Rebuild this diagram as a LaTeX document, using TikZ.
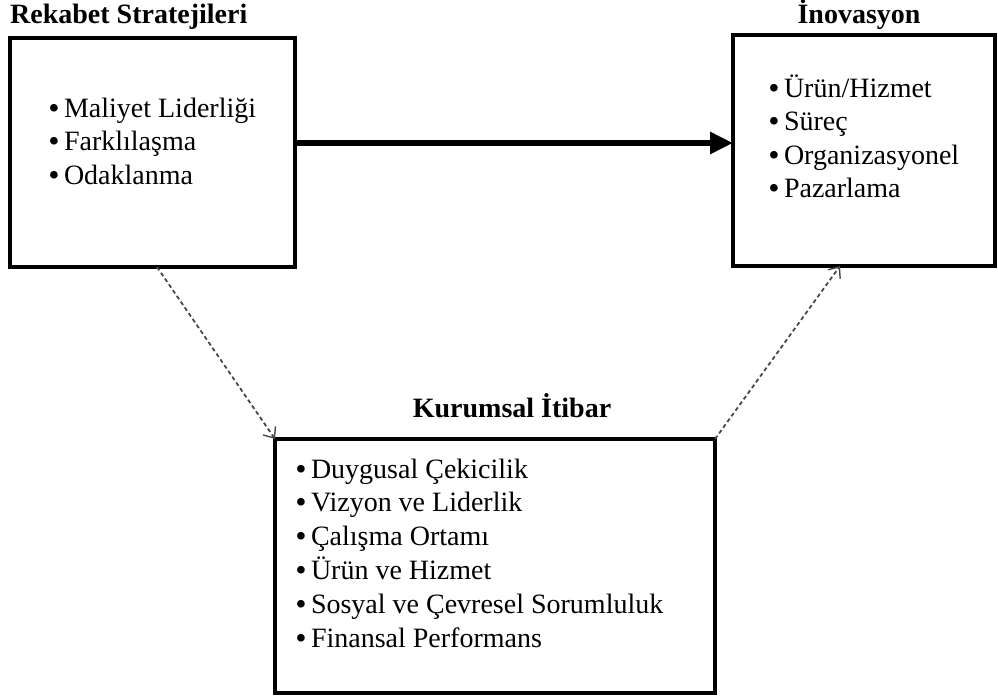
\documentclass[tikz,border=0pt]{standalone}
\usepackage{fontspec}
\setmainfont{Liberation Serif}
\usetikzlibrary{arrows.meta}
\newcommand{\itemdot}{\textbf{\textbullet}\hspace{5pt}}
\begin{document}
\begin{tikzpicture}[x=1pt,y=-1pt,
  box/.style={draw, line width=3.5pt, inner sep=0pt, outer sep=0pt, anchor=north west},
  title/.style={font=\fontsize{28}{32}\selectfont\bfseries, inner sep=0pt},
  item/.style={font=\fontsize{28}{33}\selectfont, inner sep=0pt, anchor=base west},
  flow/.style={line width=6.5pt, -{Triangle[length=23pt,width=21pt]}},
  link/.style={draw=black!72, line width=1.8pt, dash pattern=on 4pt off 3pt,
    -{Straight Barb[length=9pt,width=15pt,line width=1.4pt]}}]

\useasboundingbox (0,0) rectangle (998,697);

% the three boxes
\node[box, minimum width=285pt, minimum height=229pt] (lb) at (10,38) {};
\node[box, minimum width=262pt, minimum height=231pt] (rb) at (733,35) {};
\node[box, minimum width=440pt, minimum height=254pt] (bb) at (275,439) {};

% titles
\node[title, anchor=base west] (lt) at (10,23) {Rekabet Stratejileri};
\node[title, anchor=base] (rt) at (859,23) {İnovasyon};
\node[title, anchor=base] (bt) at (512,417) {Kurumsal İtibar};

% bullet lists
\foreach \t [count=\i] in {Maliyet Liderliği, Farklılaşma, Odaklanma}
  \node[item] (la\i) at (49,{117+33.5*(\i-1)}) {\itemdot\t};
\foreach \t [count=\i] in {Ürün/Hizmet, Süreç, Organizasyonel, Pazarlama}
  \node[item] (ra\i) at (769,{97+33.5*(\i-1)}) {\itemdot\t};
\foreach \t [count=\i] in {Duygusal Çekicilik, Vizyon ve Liderlik, Çalışma Ortamı,
    Ürün ve Hizmet, Sosyal ve Çevresel Sorumluluk, Finansal Performans}
  \node[item] (ba\i) at (296,{478+33.8*(\i-1)}) {\itemdot\t};

% connectors
\draw[flow] ([yshift=9.5pt]lb.east) coordinate (fs) -- (fs -| rb.west);
\draw[link] ([xshift=147pt]lb.south west) -- (bb.north west);
\draw[link] (bb.north east) -- ([xshift=107pt]rb.south west);
\end{tikzpicture}
\end{document}
